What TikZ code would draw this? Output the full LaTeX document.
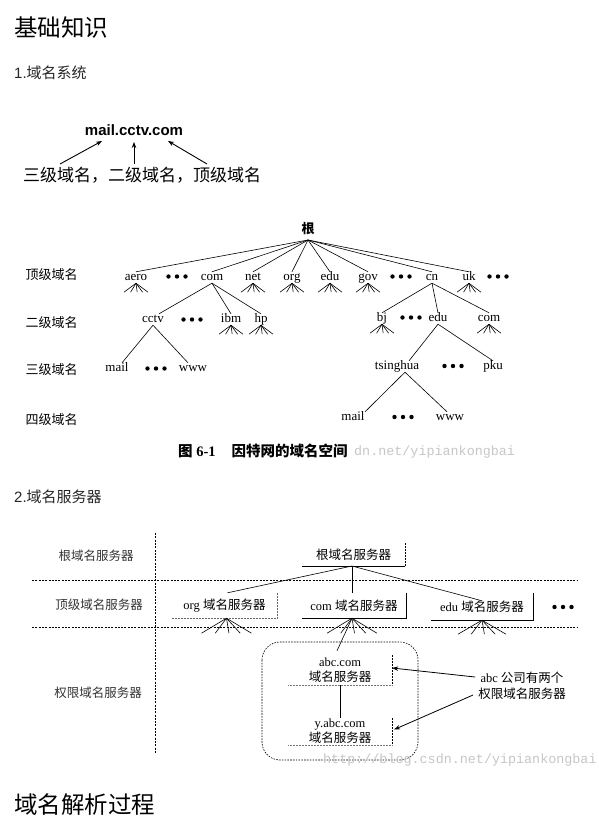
\documentclass[tikz,border=0pt]{standalone}
\usepackage{fontspec}
\setmainfont{Liberation Serif}
\newfontfamily\cjk{Noto Sans CJK SC}
\newfontfamily\arialf{Liberation Sans}
\newfontfamily\monof{Liberation Mono}
\usetikzlibrary{arrows.meta}
\newcommand\tfan[3]{\foreach \k in {-1,-0.45,0.1,0.55,1}{\draw[ln] (#1) -- ++({\k*#2},#3);}}
\newcommand\tdots[2]{\foreach \k in {-8.5,0,8.5}{\fill ({#1+\k},#2) circle (2.2pt);}}
\begin{document}
\begin{tikzpicture}[x=1pt,y=-1pt,
  tn/.style={inner sep=1pt, text height=7pt, text depth=2pt, anchor=base, font=\fontsize{13}{13}\selectfont},
  lv/.style={inner sep=0pt, font=\fontsize{13}{13}\selectfont\cjk},
  sv/.style={inner sep=0pt, text=black!80, font=\fontsize{12.5}{12.5}\selectfont\cjk},
  ln/.style={line width=0.6pt},
  arr/.style={line width=0.9pt, -{Stealth[length=6pt,width=4.5pt]}},
  hd/.style={line width=0.6pt, dash pattern=on 2pt off 1.3pt},
  box/.style={inner sep=0pt, align=center, font=\fontsize{12.5}{15}\selectfont},
  head/.style={anchor=west, inner sep=0pt, font=\fontsize{23.5}{24}\selectfont\cjk},
  sub/.style={anchor=west, inner sep=0pt, text=black!85, font=\fontsize{15}{15}\selectfont},
  wm/.style={inner sep=0pt, anchor=west, text=black!22, font=\fontsize{13.4}{13.4}\selectfont\monof}]
\useasboundingbox[fill=white] (0,0) rectangle (598,826);

% headings
\node[head] (h1) at (14,28) {基础知识};
\node[sub] (s1) at (14,73) {{\arialf 1.}{\cjk 域名系统}};
\node[sub] (s2) at (14,497) {{\arialf 2.}{\cjk 域名服务器}};
\node[head] (h2) at (14,805) {域名解析过程};

% section 1 example
\node[inner sep=0pt, font=\fontsize{15}{15}\selectfont\arialf\bfseries] (mcc) at (134,130) {mail.cctv.com};
\node[inner sep=0pt, font=\fontsize{17}{17}\selectfont\cjk] (lvl) at (142,175) {三级域名，二级域名，顶级域名};
\coordinate (a1s) at (60,164); \coordinate (a1e) at (102,141);
\coordinate (a2s) at (134,164); \coordinate (a2e) at (134,142);
\coordinate (a3s) at (207,164); \coordinate (a3e) at (168,141);
\draw[arr] (a1s) -- (a1e);
\draw[arr] (a2s) -- (a2e);
\draw[arr] (a3s) -- (a3e);

% tree level labels
\node[lv] (L1) at (51.5,275) {顶级域名};
\node[lv] (L2) at (51.5,323) {二级域名};
\node[lv] (L3) at (51.5,370) {三级域名};
\node[lv] (L4) at (51.5,420) {四级域名};

% root
\node[inner sep=0pt, font=\fontsize{13}{13}\selectfont\cjk\bfseries] (root) at (308,229) {根};
\coordinate (rt) at (308,240);

% top level
\node[tn] (aero) at (136,280) {aero};
\node[tn] (com) at (212,280) {com};
\node[tn] (net) at (253,280) {net};
\node[tn] (org) at (292,280) {org};
\node[tn] (edu) at (330,280) {edu};
\node[tn] (gov) at (368,280) {gov};
\node[tn] (cn) at (432,280) {cn};
\node[tn] (uk) at (469,280) {uk};
\tdots{177}{276.5}
\tdots{401}{276.5}
\tdots{498}{276.5}
\foreach \n in {aero,com,net,org,edu,gov,cn,uk}{\draw[ln] (rt) -- (\n.north);}
\foreach \n in {aero,net,org,edu,gov,uk}{\tfan{\n.south}{12}{9}}

% second level
\node[tn] (cctv) at (153,322) {cctv};
\node[tn] (ibm) at (231,322) {ibm};
\node[tn] (hp) at (261,322) {hp};
\node[tn] (bj) at (382,321) {bj};
\node[tn] (edu2) at (438,321) {edu};
\node[tn] (com2) at (489,321) {com};
\tdots{192}{319.5}
\tdots{411}{317.5}
\draw[ln] (com.south) -- ([xshift=6pt]cctv.north);
\draw[ln] (com.south) -- (ibm.north);
\draw[ln] (com.south) -- (hp.north);
\draw[ln] (cn.south) -- (bj.north);
\draw[ln] (cn.south) -- (edu2.north);
\draw[ln] (cn.south) -- (com2.north);
\foreach \n in {ibm,hp,bj,com2}{\tfan{\n.south}{12}{9}}

% third level
\node[tn] (mail) at (117,371) {mail};
\node[tn] (www) at (193,371) {www};
\node[tn] (tsing) at (397,369) {tsinghua};
\node[tn] (pku) at (493,369) {pku};
\tdots{156}{368.5}
\tdots{453}{366}
\draw[ln] (cctv.south) -- ([xshift=5pt]mail.north);
\draw[ln] (cctv.south) -- ([xshift=-5pt]www.north);
\draw[ln] (edu2.south) -- ([xshift=12pt]tsing.north);
\draw[ln] (edu2.south) -- (pku.north);

% fourth level
\node[tn] (mail2) at (353,420) {mail};
\node[tn] (www2) at (450,420) {www};
\tdots{403}{417}
\draw[ln] ([xshift=8pt]tsing.south) -- ([xshift=12pt]mail2.north);
\draw[ln] ([xshift=8pt]tsing.south) -- ([xshift=-3pt]www2.north);

% caption + watermark
\node[inner sep=0pt, anchor=west, font=\fontsize{14.5}{14.5}\selectfont\bfseries] (cap) at (178,451) {{\cjk 图} 6-1\hspace{16pt}{\cjk 因特网的域名空间}};
\node[wm] (wm1) at (354,452) {dn.net/yipiankongbai};

% ---------------- section 2 diagram ----------------
\coordinate (vt) at (155,533); \coordinate (vb) at (155,754);
\draw[hd] (vt) -- (vb);
\coordinate (h1l) at (32,580); \coordinate (h1r) at (578,580);
\coordinate (h2l) at (32,627); \coordinate (h2r) at (578,627);
\draw[hd] (h1l) -- (h1r);
\draw[hd] (h2l) -- (h2r);

\node[sv] (S1) at (96,556) {根域名服务器};
\node[sv] (S2) at (99,605) {顶级域名服务器};
\node[sv] (S3) at (98,693) {权限域名服务器};

\node[box, minimum width=103pt, minimum height=23pt] (rbox) at (353.5,554.5) {{\cjk 根域名服务器}};
\node[box, minimum width=105pt, minimum height=25pt] (obox) at (224.5,605.5) {org {\cjk 域名服务器}};
\node[box, minimum width=104pt, minimum height=25pt] (cbox) at (354,605.5) {com {\cjk 域名服务器}};
\node[box, minimum width=102pt, minimum height=27pt] (ebox) at (482,606.5) {edu {\cjk 域名服务器}};
\node[box, minimum width=104pt, minimum height=30pt] (abox) at (340,670) {abc.com\\{\cjk 域名服务器}};
\node[box, minimum width=104pt, minimum height=27pt] (ybox) at (340,731.5) {y.abc.com\\{\cjk 域名服务器}};
\tdots{563}{607}

\draw[line width=0.5pt, dash pattern=on 2pt off 1pt] (rbox.north east) -- (rbox.south east);
\draw[line width=0.6pt] (rbox.south east) -- (rbox.south west);
\draw[line width=0.5pt, black!60, densely dotted] (obox.north east) -- (obox.south east) -- (obox.south west);
\draw[line width=0.6pt] (cbox.north east) -- (cbox.south east) -- (cbox.south west);
\draw[line width=0.6pt] (ebox.north east) -- (ebox.south east) -- (ebox.south west);
\draw[line width=0.5pt, dash pattern=on 2pt off 1pt] (abox.north east) -- (abox.south east);
\draw[line width=0.5pt, black!55, densely dotted] (abox.south east) -- (abox.south west);
\draw[line width=0.5pt, dash pattern=on 2pt off 1pt] (ybox.north east) -- (ybox.south east);
\draw[line width=0.5pt, black!55, densely dotted] (ybox.south east) -- (ybox.south west);

\coordinate (rj) at (352,566);
\draw[ln] (rj) -- ([xshift=3pt]obox.north);
\draw[ln] (rj) -- ([xshift=-2pt]cbox.north);
\draw[ln] (rj) -- ([yshift=-8pt]ebox.north);

\tfan{[xshift=2pt]obox.south}{25}{15}
\tfan{[xshift=-2pt]cbox.south}{25}{15}
\tfan{ebox.south}{24}{14}
\draw[ln] ([xshift=-2pt]cbox.south) -- ([xshift=-3pt,yshift=4pt]abox.north);

\draw[ln] (abox.south) -- (ybox.north);
\draw[line width=0.6pt, dash pattern=on 1.6pt off 1.2pt, rounded corners=18pt] (262,642) rectangle (418,760);

\node[inner sep=0pt, align=center, font=\fontsize{12.5}{16}\selectfont] (abcl) at (522,686) {abc {\cjk 公司有两个}\\{\cjk 权限域名服务器}};
\draw[arr, line width=0.8pt] ([xshift=-3pt,yshift=9pt]abcl.west) -- ([yshift=2pt]abox.east);
\draw[arr, line width=0.8pt] ([xshift=-5pt,yshift=-9pt]abcl.west) -- ([xshift=2pt,yshift=2pt]ybox.east);

\node[wm] (wm2) at (323,760) {http://blog.csdn.net/yipiankongbai};
\end{tikzpicture}
\end{document}
